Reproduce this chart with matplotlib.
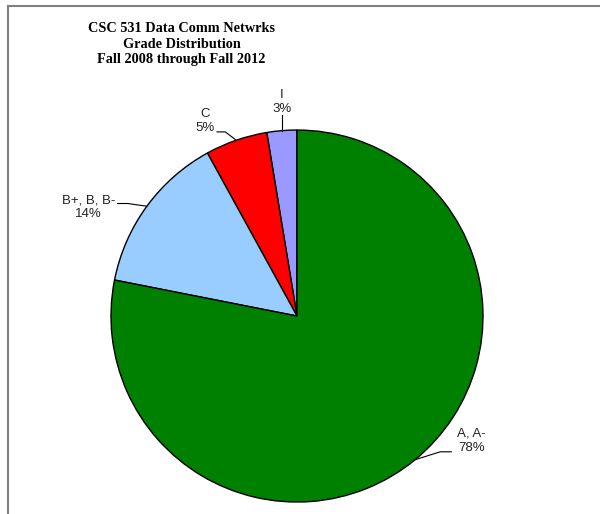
import numpy as np
import matplotlib
matplotlib.use("Agg")
import matplotlib.pyplot as plt
from matplotlib.lines import Line2D

# grade shares (percent), counter-clockwise from 12 o'clock
grades = ["I", "C", "B+, B, B-", "A, A-"]
shares = [2.6, 5.4, 13.9, 78.1]
colors = ["#9999FF", "#FF0000", "#99CCFF", "#008000"]

title = "CSC 531 Data Comm Netwrks\nGrade Distribution\nFall 2008 through Fall 2012"

# label layout: text centre, leader start, horizontal elbow length (data units)
label_pos = [(-0.08, 1.15), (-0.495, 1.05), (-1.12, 0.585), (0.94, -0.67)]
leader_start = [(-0.086, 1.08), (-0.43, 0.99), (-0.965, 0.605), (0.83, -0.73)]
elbow = [0.0, 0.045, 0.055, -0.06]

fig = plt.figure(figsize=(6, 5.14), dpi=100)
ax = fig.add_axes([0.185, 0.0233, 0.62, 0.7237])

wedges, _ = ax.pie(shares, colors=colors, startangle=90, counterclock=True,
                   wedgeprops=dict(edgecolor="black", linewidth=1.0))
ax.set_xlim(-1, 1)
ax.set_ylim(-1, 1)
ax.set_aspect("equal")
ax.axis("off")

for w, name, v, (tx, ty), (sx, sy), dx in zip(wedges, grades, shares,
                                               label_pos, leader_start, elbow):
    ax.text(tx, ty, f"{name}\n{v:.0f}%", ha="center", va="center",
            fontsize=9.5, family="Liberation Sans", color="#222222",
            linespacing=1.2, clip_on=False)
    mid = np.deg2rad((w.theta1 + w.theta2) / 2)
    ex, ey = np.cos(mid), np.sin(mid)
    if dx == 0:
        xs, ys = [ex, ex], [sy, ey]
    else:
        xs, ys = [sx, sx + dx, ex], [sy, sy, ey]
    ax.add_line(Line2D(xs, ys, color="black", lw=0.8, clip_on=False))

fig.text(181.5 / 600, 1 - 44 / 514, title, ha="center", va="center",
         family="Liberation Serif", fontweight="bold", fontsize=10.3,
         linespacing=1.2)

# chart-area border (only left and top edges visible)
x0, y0 = 7.5 / 600, 1 - 5.7 / 514
fig.add_artist(Line2D([x0, x0], [y0, 0], transform=fig.transFigure,
                      color="#808080", lw=1.5))
fig.add_artist(Line2D([x0, 1], [y0, y0], transform=fig.transFigure,
                      color="#808080", lw=1.5))

fig.savefig("out.png", dpi=100)
